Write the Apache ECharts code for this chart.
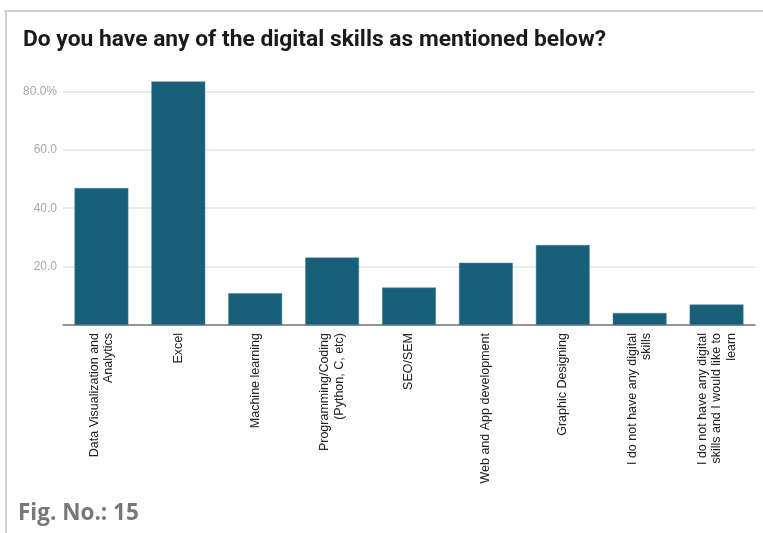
<!DOCTYPE html>
<html>
<head>
<meta charset="utf-8">
<script src="https://cdn.jsdelivr.net/npm/echarts@6/dist/echarts.min.js"></script>
<style>
  html, body { margin: 0; padding: 0; background: #fff; }
  #chart { width: 763px; height: 533px; }
</style>
</head>
<body>
<div id="chart"></div>
<script>
// Survey answers: share of respondents (%) per digital skill
const categories = [
  'Data Visualization and\nAnalytics',
  'Excel',
  'Machine learning',
  'Programming/Coding\n(Python, C, etc)',
  'SEO/SEM',
  'Web and App development',
  'Graphic Designing',
  'I do not have any digital\nskills',
  'I do not have any digital\nskills and I would like to\nlearn'
];
const shares = [46.9, 83.4, 10.9, 23.1, 12.8, 21.3, 27.4, 4.1, 7.0];
const yTicks = [20, 40, 60, 80];

const chart = echarts.init(document.getElementById('chart'), null, { renderer: 'canvas' });

chart.setOption({
  backgroundColor: '#ffffff',
  animation: false,
  title: {
    text: 'Do you have any of the digital skills as mentioned below?',
    left: 23,
    top: 29,
    padding: 0,
    textStyle: {
      fontFamily: 'Roboto',
      fontWeight: 'bold',
      fontSize: 22.8,
      color: '#1a1a1a'
    }
  },
  graphic: [
    // card frame: top and left edges
    { type: 'rect', shape: { x: 4, y: 10, width: 759, height: 2 }, style: { fill: '#cfcfcf' }, silent: true },
    { type: 'rect', shape: { x: 5, y: 10, width: 2, height: 523 }, style: { fill: '#cfcfcf' }, silent: true },
    {
      type: 'text',
      left: 18,
      top: 502,
      style: {
        text: 'Fig. No.: 15',
        fontFamily: 'Open Sans',
        fontWeight: 'bold',
        fontSize: 22.5,
        fill: '#777777'
      }
    }
  ],
  grid: {
    left: 63,
    right: 8,
    top: 33,
    bottom: 208,
    containLabel: false
  },
  xAxis: {
    type: 'category',
    data: categories,
    axisLine: { show: true, lineStyle: { color: '#707070', width: 1.5 } },
    axisTick: { show: false },
    axisLabel: {
      interval: 0,
      rotate: 90,
      margin: 8,
      fontFamily: 'Liberation Sans',
      fontSize: 12.5,
      lineHeight: 14.5,
      color: '#222222'
    }
  },
  yAxis: {
    type: 'value',
    min: 0,
    max: 100,
    interval: 20,
    axisLine: { show: false },
    axisTick: { show: false },
    axisLabel: {
      showMinLabel: false,
      showMaxLabel: false,
      margin: 6,
      fontFamily: 'Liberation Sans',
      fontSize: 12,
      color: '#a8a8a8',
      formatter: function (v) {
        if (yTicks.indexOf(v) < 0) return '';
        return v === yTicks[yTicks.length - 1] ? v.toFixed(1) + '%' : v.toFixed(1);
      }
    },
    splitLine: {
      show: true,
      showMinLine: false,
      showMaxLine: false,
      lineStyle: { color: '#e3e3e3', width: 1.5 }
    }
  },
  series: [{
    type: 'bar',
    data: shares,
    barWidth: '70%',
    itemStyle: { color: '#185f79', borderColor: '#4a8296', borderWidth: 0.5 }
  }]
});
</script>
</body>
</html>
